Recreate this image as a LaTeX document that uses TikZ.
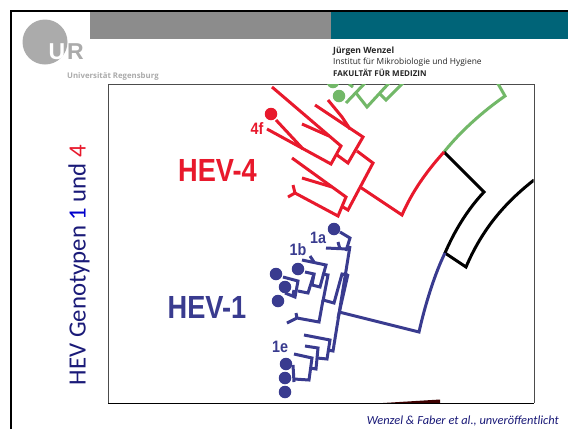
\documentclass[tikz,border=0pt]{standalone}
\usepackage{fontspec}
\setmainfont{Carlito}
\newfontfamily\headfont{Open Sans}
\newfontfamily\labfont{Liberation Sans}
\definecolor{hevred}{HTML}{E8192C}
\definecolor{hevblue}{HTML}{393B8F}
\definecolor{hevgreen}{HTML}{72B868}
\definecolor{teal}{HTML}{006478}
\definecolor{urgray}{HTML}{ABABAB}
\definecolor{bargray}{HTML}{8C8C8C}
\definecolor{navytxt}{HTML}{1A1A78}
\tikzset{
  tree/.style={line width=3pt,line cap=butt,line join=miter},
  lab/.style={inner sep=0pt,transform shape},
  smalllab/.style={lab,xscale=.87,font=\labfont\bfseries\fontsize{16.5}{16.5}\selectfont},
  biglab/.style={lab,xscale=.85,font=\labfont\bfseries\fontsize{32}{32}\selectfont},
  dotb/.style={circle,fill=hevblue,minimum size=12.5pt,inner sep=0pt},
  headtxt/.style={anchor=west,inner sep=0pt,text=black!85}
}
\begin{document}
\begin{tikzpicture}[x=1pt,y=-1pt]
\useasboundingbox (0,0) rectangle (568,429);
\fill[white] (0,0) rectangle (568,429);
% bars
\fill[bargray] (90,12) rectangle (331,39);
\fill[teal] (331,12) rectangle (568,39);
\draw[line width=2pt] (10.5,429) -- (10.5,11) -- (568,11);
% logo
\fill[urgray] (45,42) circle (22.5);
\node[font=\labfont\bfseries\fontsize{23}{23}\selectfont,text=white,inner sep=0pt,anchor=center] (logoU) at (57,52) {U};
\node[font=\labfont\bfseries\fontsize{23}{23}\selectfont,text=urgray,inner sep=0pt,anchor=center] (logoR) at (75.5,52) {R};
\node[font=\headfont\bfseries\fontsize{7.8}{7.8}\selectfont,text=urgray,inner sep=0pt,anchor=west] (uni) at (67,76) {Universität Regensburg};
% header text
\node[headtxt,font=\headfont\bfseries\fontsize{8.6}{8.6}\selectfont] (t1) at (333,51) {Jürgen Wenzel};
\node[headtxt,font=\headfont\fontsize{8.4}{8.4}\selectfont] (t2) at (333,62) {Institut für Mikrobiologie und Hygiene};
\node[headtxt,font=\headfont\bfseries\fontsize{8}{8}\selectfont] (t3) at (333,73) {FAKULTÄT FÜR MEDIZIN};
% plot box
\draw[black!70,line width=1pt] (108,403) -- (108,84) -- (534,84) -- (534,403);
\draw[black,line width=1pt] (108,403) -- (534,403);
\begin{scope}
\clip (108.5,84.5) rectangle (533.5,402.5);
\fill[black!60!red!60!black] (383,403) -- (440,399.5) -- (440,403) -- cycle;
% green
\draw[tree,hevgreen] (444,152) .. controls (460,132) and (482,112) .. (505,96) -- (497,82);
\draw[tree,hevgreen] (346,103) -- (366,82);
\draw[tree,hevgreen] (356,93) -- (367,107) -- (390,82);
\draw[tree,hevgreen] (379,93) -- (386,100) -- (403,83);
\draw[tree,hevgreen] (349,84) -- (353,87);
\node[circle,fill=hevgreen,minimum size=12.5pt,inner sep=0pt] (g1) at (339,96) {};
\node[circle,fill=hevgreen,minimum size=12.5pt,inner sep=0pt] (g2) at (333,82) {};
% black
\draw[tree,black] (444,152) -- (484,192) .. controls (467,210) and (454,232) .. (445,253) -- (466,267) .. controls (481,232) and (502,205) .. (534,180);
% red
\draw[tree,hevred] (444,152) .. controls (426,172) and (412,192) .. (402,215) -- (360,187);
\draw[tree,hevred] (357,151) -- (373,163) -- (348,210) -- (343,207);
\draw[tree,hevred] (288,197) -- (295,193) -- (293,185);
\draw[tree,hevred] (292,158) -- (346,197) -- (338,216) -- (295,193);
\draw[tree,hevred] (302,178) -- (332,187);
\draw[tree,hevred] (315,105) -- (363,137) -- (348,163) -- (337,155);
\draw[tree,hevred] (328,100) -- (342,117) -- (350,129);
\draw[tree,hevred] (272,87) -- (341,146) -- (331,164) -- (267,129);
\draw[tree,hevred] (302,124) -- (329,136);
\draw[tree,hevred] (276,120) -- (303,149);
\end{scope}
\node[circle,fill=hevred,minimum size=12.5pt,inner sep=0pt] (r1) at (271,114) {};
\node[smalllab,text=hevred] (l4f) at (257,129) {4f};
\node[biglab,text=hevred] (h4) at (217.5,170.5) {HEV-4};
% blue
\draw[tree,hevblue] (445,253) .. controls (435,273) and (425,305) .. (419,332) -- (339,312);
\draw[tree,hevblue] (340,232) -- (350,238) -- (346,251);
\draw[tree,hevblue] (326,248) -- (347,249);
\draw[tree,hevblue] (338,242) -- (340,249);
\draw[tree,hevblue] (350,246) -- (333,351) -- (328,350);
\draw[tree,hevblue] (348,275) -- (342,274) -- (334,303) -- (323,300);
\draw[tree,hevblue] (348,274) -- (338,318);
\draw[tree,hevblue] (323,301) -- (328,275) -- (322,274);
\draw[tree,hevblue] (302,260) -- (326,265) -- (320,287) -- (312,285);
\draw[tree,hevblue] (310,256) -- (314,262);
\draw[tree,hevblue] (305,272) -- (314,274) -- (308,293) -- (298,291);
\draw[tree,hevblue] (312,285) -- (314,274);
\draw[tree,hevblue] (283,277) -- (298,281) -- (295,297) -- (285,293);
\draw[tree,hevblue] (293,295) -- (294,290);
\draw[tree,hevblue] (323,300) -- (319,322) -- (297,318) -- (287,323);
\draw[tree,hevblue] (296,313) -- (297,318);
\draw[tree,hevblue] (304,335) -- (330,340) -- (327,359) -- (317,358);
\draw[tree,hevblue] (305,346) -- (318,348) -- (316,369) -- (310,368);
\draw[tree,hevblue] (294,354) -- (312,358) -- (309,380) -- (294,379);
\draw[tree,hevblue] (293,365) -- (294,382);
\node[dotb] (b1) at (334,229) {};
\node[dotb] (b2) at (298,269) {};
\node[dotb] (b3) at (276,274) {};
\node[dotb] (b4) at (285,287) {};
\node[dotb] (b5) at (278,301) {};
\node[dotb] (b6) at (286,364) {};
\node[dotb] (b7) at (285,378) {};
\node[dotb] (b8) at (285,392) {};
\node[smalllab,text=hevblue] (l1a) at (318,238) {1a};
\node[smalllab,text=hevblue] (l1b) at (298,250) {1b};
\node[smalllab,text=hevblue] (l1e) at (280,347) {1e};
\node[biglab,text=hevblue] (h1) at (207,307) {HEV-1};
% titles
\node[rotate=90,inner sep=0pt,font=\fontsize{24.8}{24.8}\selectfont,text=navytxt] (title) at (79,265) {HEV Genotypen \textcolor{blue!80!black}{1} und \textcolor{hevred}{4}};
\node[inner sep=0pt,anchor=east,font=\itshape\fontsize{12.4}{12.4}\selectfont,text=navytxt] (cite) at (559,421) {Wenzel \& Faber et al., unveröffentlicht};
\end{tikzpicture}
\end{document}
